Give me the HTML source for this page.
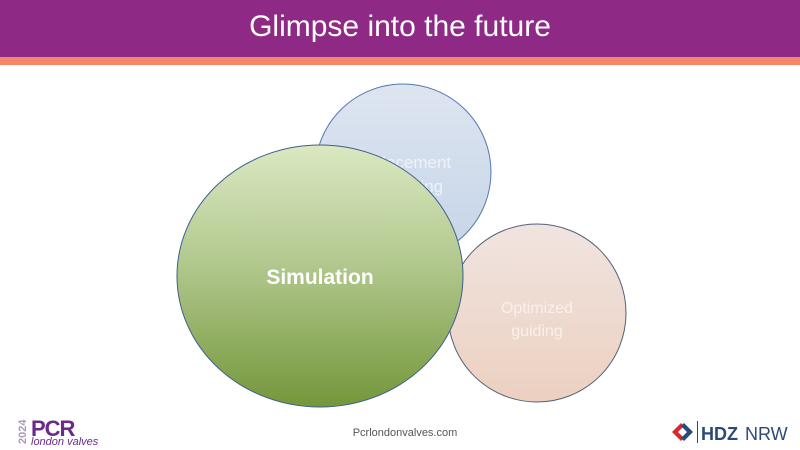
<!DOCTYPE html>
<html><head><style>
body{margin:0;width:800px;height:450px;background:#fff;overflow:hidden;position:relative;font-family:"Liberation Sans",sans-serif}
.hdr{position:absolute;left:0;top:0;width:800px;height:57px;background:#8e2a86;color:#fff;font-size:30px;text-align:center;line-height:54px}
.str{position:absolute;left:0;top:57px;width:800px;height:8px;background:#f4866a}
</style></head><body>
<div class="hdr">Glimpse into the future</div>
<div class="str"></div>
<svg width="800" height="450" style="position:absolute;left:0;top:0">
<defs>
<linearGradient id="b" x1="0" y1="0" x2="0" y2="1"><stop offset="0" stop-color="#dde5f0"/><stop offset="1" stop-color="#c5d4e8"/></linearGradient>
<linearGradient id="p" x1="0" y1="0" x2="0" y2="1"><stop offset="0" stop-color="#f0e4e0"/><stop offset="1" stop-color="#ecd0c0"/></linearGradient>
<linearGradient id="g" x1="0" y1="0" x2="0" y2="1"><stop offset="0" stop-color="#dbe8c2"/><stop offset="0.45" stop-color="#b2c88e"/><stop offset="1" stop-color="#74973a"/></linearGradient>
</defs>
<circle cx="403" cy="172" r="88" fill="url(#b)" stroke="#5577aa" stroke-width="1"/>
<text x="411" y="168" fill="#eef2f8" font-size="17" text-anchor="middle" font-family="Liberation Sans">Placement</text>
<text x="411" y="192" fill="#eef2f8" font-size="17" text-anchor="middle" font-family="Liberation Sans">planning</text>
<circle cx="537" cy="313" r="89" fill="url(#p)" stroke="#55607a" stroke-width="1"/>
<text x="537" y="313" fill="#f8f0ec" font-size="16" text-anchor="middle" font-family="Liberation Sans">Optimized</text>
<text x="537" y="336" fill="#f8f0ec" font-size="16" text-anchor="middle" font-family="Liberation Sans">guiding</text>
<ellipse cx="320" cy="276" rx="143" ry="131" fill="url(#g)" stroke="#3f5f8f" stroke-width="1"/>
<text x="320" y="284" fill="#fff" font-size="21" font-weight="bold" text-anchor="middle" font-family="Liberation Sans">Simulation</text>
<text x="405" y="436" fill="#555" font-size="11" text-anchor="middle" font-family="Liberation Sans">Pcrlondonvalves.com</text>
<text x="26" y="444" fill="#aa99bb" font-size="11" font-weight="bold" transform="rotate(-90 26 444)" font-family="Liberation Sans">2024</text>
<text x="31" y="436" fill="#6b2a8a" font-size="22" font-weight="bold" font-family="Liberation Sans" letter-spacing="-1">PCR</text>
<text x="31" y="445" fill="#6b2a8a" font-size="11" font-style="italic" font-family="Liberation Sans">london valves</text>
<polygon points="672,432 681,423 684,426 678,432 684,438 681,441" fill="#d8282e"/>
<polygon points="693,432 684,441 681,438 687,432 681,426 684,423" fill="#2b4a7a"/>
<rect x="697" y="421" width="1" height="22" fill="#2b4a7a"/>
<text x="701" y="440" fill="#2b4a7a" font-size="18" font-weight="bold" font-family="Liberation Sans">HDZ</text>
<text x="745" y="440" fill="#2b4a7a" font-size="18" font-family="Liberation Sans">NRW</text>
</svg>
</body></html>
